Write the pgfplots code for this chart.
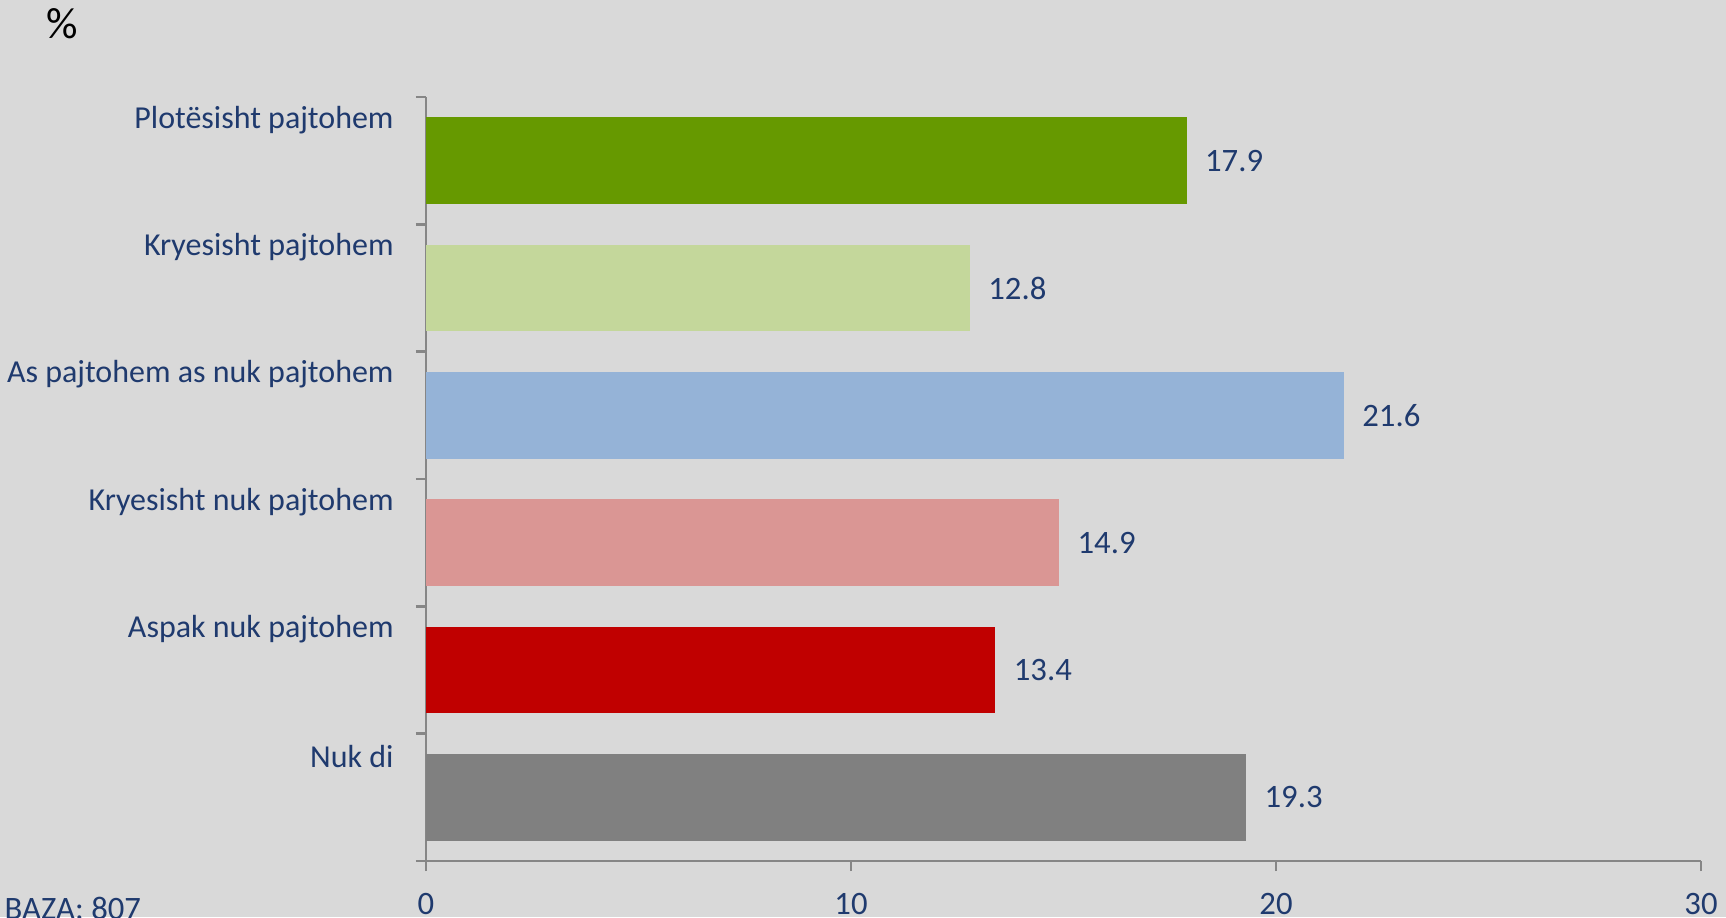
\documentclass[border=0pt]{standalone}
\usepackage{pgfplots}
\pgfplotsset{compat=1.18}
\usepackage{fontspec}
\setmainfont{Carlito}
\definecolor{bg}{HTML}{D9D9D9}
\definecolor{navy}{HTML}{1F3A6E}
\definecolor{axgray}{HTML}{868686}
\definecolor{c1}{HTML}{669900}
\definecolor{c2}{HTML}{C4D79B}
\definecolor{c3}{HTML}{95B3D7}
\definecolor{c4}{HTML}{DA9694}
\definecolor{c5}{HTML}{C00000}
\definecolor{c6}{HTML}{808080}

\begin{document}
\begin{tikzpicture}
\useasboundingbox (0,0) rectangle (17.26,9.17);
\fill[bg] (0,0) rectangle (17.26,9.17);
\begin{axis}[
  at={(4.26cm,0.56cm)}, anchor=south west,
  width=12.75cm, height=7.64cm, scale only axis,
  xmin=0, xmax=30, ymin=-0.5, ymax=5.5,
  xbar, bar shift=0pt, bar width=0.68,
  axis x line*=bottom, axis y line*=left,
  axis line style={axgray, line width=0.8pt, -},
  tick style={axgray, line width=0.8pt},
  tick align=outside, major tick length=0.1cm,
  xtick={0,10,20,30},
  ytick={-0.5,0.5,...,5.5}, yticklabels={},
  extra y ticks={0.32,1.32,2.32,3.32,4.32,5.32},
  extra y tick labels={Nuk di,Aspak nuk pajtohem,Kryesisht nuk pajtohem,As pajtohem as nuk pajtohem,Kryesisht pajtohem,Plotësisht pajtohem},
  extra y tick style={major tick length=0pt, yticklabel style={xshift=-0.2cm, font=\fontsize{9.1}{11}\selectfont}},
  tick label style={font=\fontsize{9.3}{11}\selectfont, text=navy},
  xticklabel style={anchor=base, yshift=-0.43cm},
  /pgf/number format/assume math mode=true,
  nodes near coords={\pgfmathprintnumber[fixed,fixed zerofill,precision=1]{\pgfplotspointmeta}},
  nodes near coords style={anchor=west, xshift=0.06cm, text=navy, font=\fontsize{9.3}{11}\selectfont},
  clip=false
]
\addplot[fill=c1, draw=none] coordinates {(17.9,5)};
\addplot[fill=c2, draw=none] coordinates {(12.8,4)};
\addplot[fill=c3, draw=none] coordinates {(21.6,3)};
\addplot[fill=c4, draw=none] coordinates {(14.9,2)};
\addplot[fill=c5, draw=none] coordinates {(13.4,1)};
\addplot[fill=c6, draw=none] coordinates {(19.3,0)};
\end{axis}
\node[font=\fontsize{12.5}{14}\selectfont, text=black] at (0.625,8.93) {\%};
\node[anchor=base west, inner sep=0pt, text=navy, font=\fontsize{9.3}{11}\selectfont] at (0.04,-0.02) {BAZA: 807};
\end{tikzpicture}
\end{document}
